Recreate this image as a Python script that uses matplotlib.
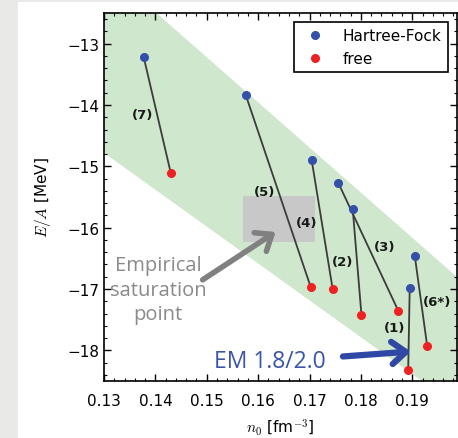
import numpy as np
import matplotlib.pyplot as plt
from matplotlib.patches import Rectangle
from matplotlib.ticker import MultipleLocator

plt.rcParams['mathtext.fontset'] = 'cm'

# data
labels = ['(1)', '(2)', '(3)', '(4)', '(5)', '(6*)', '(7)']
hf_n = [0.1895, 0.1784, 0.1756, 0.1704, 0.1576, 0.1905, 0.1377]
hf_e = [-16.98, -15.69, -15.27, -14.89, -13.84, -16.47, -13.21]
free_n = [0.1892, 0.1801, 0.1873, 0.1745, 0.1702, 0.1929, 0.1430]
free_e = [-18.32, -17.42, -17.36, -17.00, -16.96, -17.93, -15.11]

label_n = [0.1866, 0.1765, 0.1847, 0.1694, 0.1612, 0.1948, 0.1376]
label_e = [-17.63, -16.55, -16.31, -15.92, -15.41, -17.20, -14.16]

band_n = [0.13, 0.20]
band_hi = [-11.75, -16.90]
band_lo = [-14.78, -18.99]

emp_n = (0.157, 0.171)
emp_e = (-16.23, -15.49)

fig = plt.figure(figsize=(4.58, 4.39), dpi=100, facecolor='#e9e9e7')
fig.patches.append(Rectangle((18 / 458, 0), 1, 1 - 3 / 439, transform=fig.transFigure,
                             facecolor='white', edgecolor='none', zorder=-10))
ax = fig.add_axes([104 / 458, 1 - 382 / 439, 353 / 458, 368 / 439])

ax.fill_between(band_n, band_lo, band_hi, color='#cfe7cc', lw=0, zorder=0)
ax.add_patch(Rectangle((emp_n[0], emp_e[0]), emp_n[1] - emp_n[0], emp_e[1] - emp_e[0],
                       facecolor='#c8c8c8', edgecolor='none', zorder=1))

for i in range(len(labels)):
    ax.plot([hf_n[i], free_n[i]], [hf_e[i], free_e[i]], color='#3c3c3c', lw=1.3, zorder=2)
    ax.text(label_n[i], label_e[i], labels[i], fontsize=9.5, fontweight='bold',
            ha='center', va='center', color='#1a1a1a', zorder=4)

ax.plot(hf_n, hf_e, 'o', color='#3550a8', ms=5.5, ls='none', label='Hartree-Fock', zorder=3)
ax.plot(free_n, free_e, 'o', color='#ee2222', ms=5.5, ls='none', label='free', zorder=3)

ax.annotate('', xy=(0.1634, -16.07), xytext=(0.1492, -16.85),
            arrowprops=dict(arrowstyle='->,head_length=0.5,head_width=0.4', color='#808080',
                            lw=4, mutation_scale=20, shrinkA=0, shrinkB=0), zorder=5)
ax.text(0.1405, -17.01, 'Empirical\nsaturation\npoint', family='Open Sans', fontsize=14.5,
        color='#8a8a8a', ha='center', va='center', linespacing=1.3, zorder=5)

ax.annotate('', xy=(0.1897, -18.02), xytext=(0.1765, -18.10),
            arrowprops=dict(arrowstyle='->,head_length=0.5,head_width=0.4', color='#2f48a6',
                            lw=4.5, mutation_scale=20, shrinkA=0, shrinkB=0), zorder=5)
ax.text(0.1515, -18.18, 'EM 1.8/2.0', family='Open Sans', fontsize=16.5, color='#3a55a8',
        ha='left', va='center', zorder=5)

ax.set_xlim(0.13, 0.1987)
ax.set_ylim(-18.5, -12.5)
ax.set_xticks([0.13, 0.14, 0.15, 0.16, 0.17, 0.18, 0.19])
ax.set_yticks([-18, -17, -16, -15, -14, -13])
ax.xaxis.set_minor_locator(MultipleLocator(0.002))
ax.yaxis.set_minor_locator(MultipleLocator(0.2))
ax.tick_params(which='both', direction='in', top=True, right=True, labelsize=11)
ax.tick_params(which='major', length=5, width=1)
ax.tick_params(which='minor', length=2.5, width=0.8)
ax.tick_params(axis='x', which='major', pad=9)
for s in ax.spines.values():
    s.set_linewidth(1.2)

ax.set_xlabel(r'$n_0$ [fm$^{-3}$]', fontsize=11, labelpad=6)
ax.set_ylabel(r'$E/A$ [MeV]', fontsize=11, labelpad=10)

leg = ax.legend(loc='upper right', numpoints=1, fontsize=11, fancybox=False,
                edgecolor='black', framealpha=1, borderaxespad=0.6, handletextpad=0.8)
leg.get_frame().set_linewidth(1.2)

fig.savefig('out.png', dpi=100, facecolor=fig.get_facecolor())
